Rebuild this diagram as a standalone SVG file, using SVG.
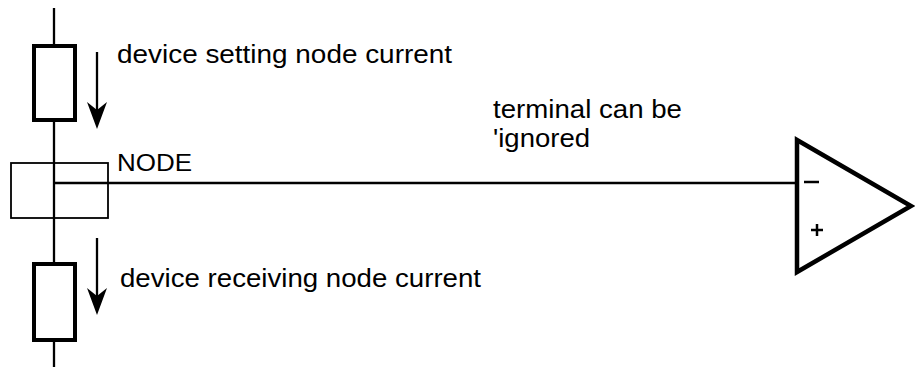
<svg xmlns="http://www.w3.org/2000/svg" width="915" height="369" viewBox="0 0 915 369">
<defs>
<style>
.wire{stroke:#000;stroke-width:2.3;fill:none}
.dev{stroke:#000;stroke-width:4;fill:#fff}
.box{stroke:#000;stroke-width:1.8;fill:none}
.amp{stroke:#000;stroke-width:4.5;fill:#fff;stroke-linejoin:miter}
.sign{stroke:#000;stroke-width:2.5;fill:none}
.lbl{font-family:"Liberation Sans",Arial,sans-serif;font-size:25px;fill:#000}
.small{font-size:23px}
.arrow{fill:#000}
</style>
</defs>
<g id="connectors">
<line class="wire" x1="54" y1="8" x2="54" y2="367"/>
<line class="wire" x1="54" y1="183" x2="797" y2="183"/>
</g>
<g id="device-top">
<rect class="dev" x="34" y="46" width="41" height="74"/>
</g>
<g id="device-bottom">
<rect class="dev" x="34" y="264" width="41" height="76"/>
</g>
<g id="node">
<rect class="box" x="11" y="163" width="97" height="55"/>
<text class="lbl small" x="117" y="171" textLength="75" lengthAdjust="spacingAndGlyphs">NODE</text>
</g>
<g id="arrow-top">
<line class="wire" x1="97" y1="52" x2="97" y2="110"/>
<polygon class="arrow" points="87,102 97,110 107,102 97,129"/>
<text class="lbl" x="117" y="63" textLength="335" lengthAdjust="spacingAndGlyphs">device setting node current</text>
</g>
<g id="arrow-bottom">
<line class="wire" x1="97" y1="238" x2="97" y2="296"/>
<polygon class="arrow" points="87,288 97,296 107,288 97,315"/>
<text class="lbl" x="120" y="287" textLength="361" lengthAdjust="spacingAndGlyphs">device receiving node current</text>
</g>
<g id="note">
<text class="lbl" x="493" y="118" textLength="189" lengthAdjust="spacingAndGlyphs">terminal can be</text>
<text class="lbl" x="493" y="147" textLength="97" lengthAdjust="spacingAndGlyphs">'ignored</text>
</g>
<g id="opamp">
<polygon class="amp" points="797,140 911,206 797,272"/>
<line class="sign" x1="804" y1="182" x2="819" y2="182"/>
<line class="sign" x1="811" y1="230" x2="823" y2="230"/>
<line class="sign" x1="817" y1="224" x2="817" y2="236"/>
</g>
</svg>
